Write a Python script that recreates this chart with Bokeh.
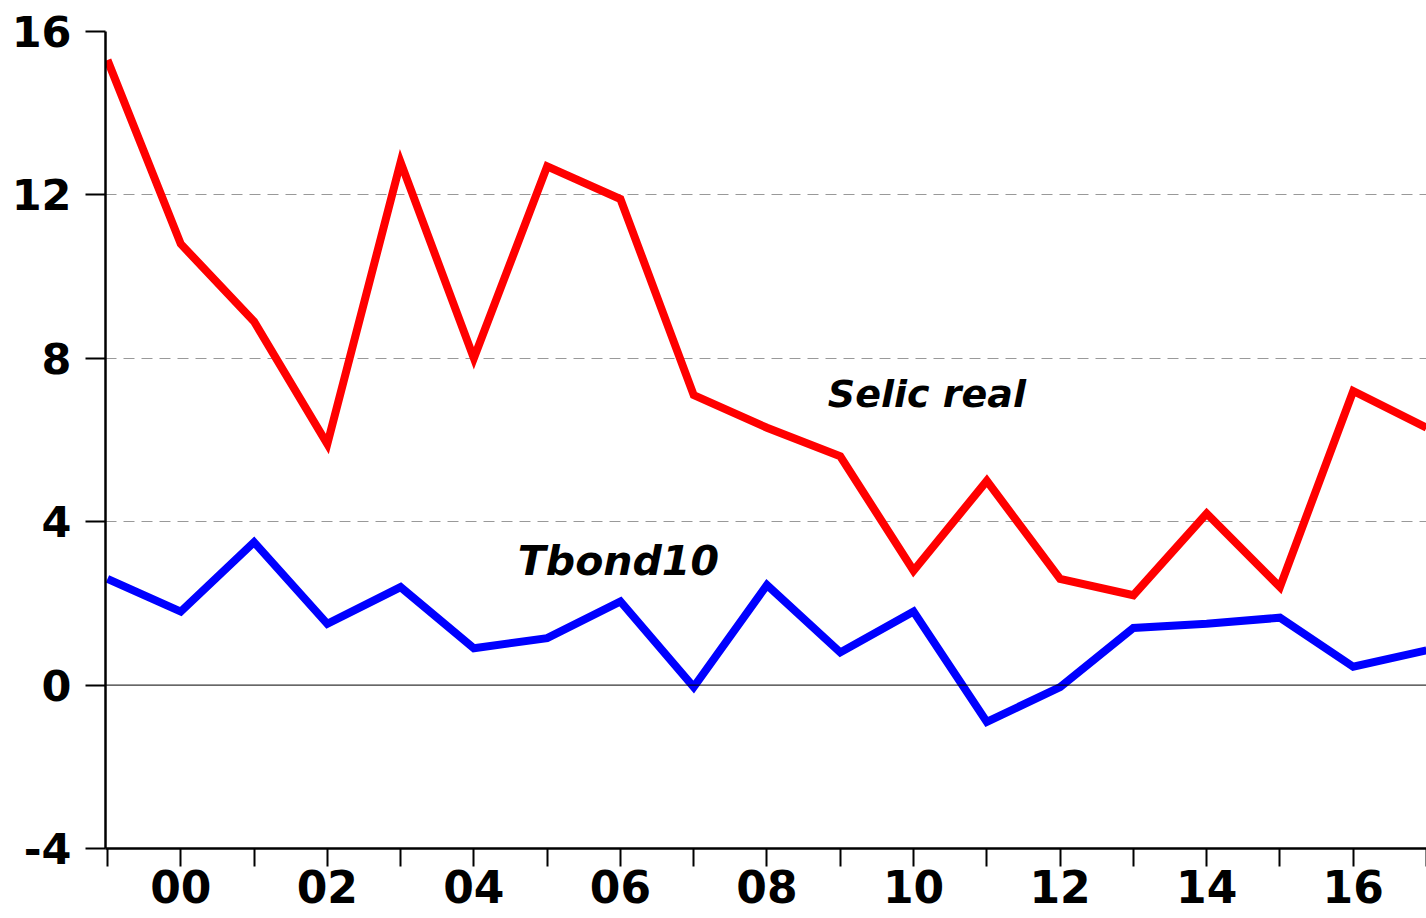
from bokeh.plotting import figure
from bokeh.models import FixedTicker, Label, Span, Range1d
from bokeh.embed import file_html
from bokeh.resources import INLINE

years = list(range(1999, 2018))
selic_real = [15.3, 10.8, 8.9, 5.9, 12.8, 8.0, 12.7, 11.9, 7.1, 6.3, 5.6, 2.8, 5.0, 2.6, 2.2, 4.2, 2.4, 7.2, 6.3]
tbond10 = [2.6, 1.8, 3.5, 1.5, 2.4, 0.9, 1.15, 2.05, -0.05, 2.45, 0.8, 1.8, -0.9, -0.05, 1.4, 1.5, 1.65, 0.45, 0.85]
x_major_ticks = [2000, 2002, 2004, 2006, 2008, 2010, 2012, 2014, 2016]
x_tick_labels = ["00", "02", "04", "06", "08", "10", "12", "14", "16"]
x_minor_ticks = [1999, 2001, 2003, 2005, 2007, 2009, 2011, 2013, 2015, 2017]
y_ticks = [-4, 0, 4, 8, 12, 16]
y_tick_labels = ["-4", "0", "4", "8", "12", "16"]
y_grid = [4, 8, 12]

FONT = "DejaVu Sans"

p = figure(width=1426, height=918, x_range=Range1d(1998.973, 2017), y_range=Range1d(-4, 16),
           output_backend="svg", toolbar_location=None,
           min_border_left=105, min_border_right=0, min_border_top=31, min_border_bottom=70)
p.outline_line_color = None
p.background_fill_color = "white"
p.border_fill_color = "white"

p.xgrid.visible = False
p.ygrid.ticker = FixedTicker(ticks=y_grid)
p.ygrid.grid_line_color = "#999999"
p.ygrid.grid_line_dash = "11 7"
p.ygrid.grid_line_width = 1

p.add_layout(Span(location=0, dimension="width", line_color="black", line_width=1))

# y axis
ya = p.yaxis[0]
ya.ticker = FixedTicker(ticks=y_ticks)
ya.major_label_overrides = {t: l for t, l in zip(y_ticks, y_tick_labels)}
ya.axis_line_width = 2.5
ya.axis_line_color = "black"
ya.major_tick_in = 0
ya.major_tick_out = 20
ya.major_tick_line_width = 2
ya.minor_tick_out = 0
ya.minor_tick_in = 0
ya.major_label_standoff = 14
ya.major_label_text_font = FONT
ya.major_label_text_font_style = "bold"
ya.major_label_text_font_size = "43px"
ya.major_label_text_color = "black"

# x axis
xa = p.xaxis[0]
xa.ticker = FixedTicker(ticks=x_major_ticks, minor_ticks=x_minor_ticks)
xa.major_label_overrides = {t: l for t, l in zip(x_major_ticks, x_tick_labels)}
xa.axis_line_width = 2.5
xa.axis_line_color = "black"
xa.major_tick_in = 0
xa.major_tick_out = 18
xa.minor_tick_in = 0
xa.minor_tick_out = 18
xa.major_tick_line_width = 2
xa.minor_tick_line_width = 2
xa.minor_tick_line_color = "black"
xa.major_label_standoff = 3
xa.major_label_text_font = FONT
xa.major_label_text_font_style = "bold"
xa.major_label_text_font_size = "44px"
xa.major_label_text_color = "black"

p.line(years, selic_real, line_color="#FF0000", line_width=8, line_join="miter")
p.line(years, tbond10, line_color="#0000FF", line_width=8, line_join="miter")

p.add_layout(Label(x=2008.83, y=7.12, text="Selic real", text_font=FONT, text_font_style="bold italic",
                   text_font_size="38px", text_color="black", text_baseline="alphabetic"))
p.add_layout(Label(x=2004.6, y=3.04, text="Tbond10", text_font=FONT, text_font_style="bold italic",
                   text_font_size="41px", text_color="black", text_baseline="alphabetic"))

open("out.html", "w").write(file_html(p, INLINE))
